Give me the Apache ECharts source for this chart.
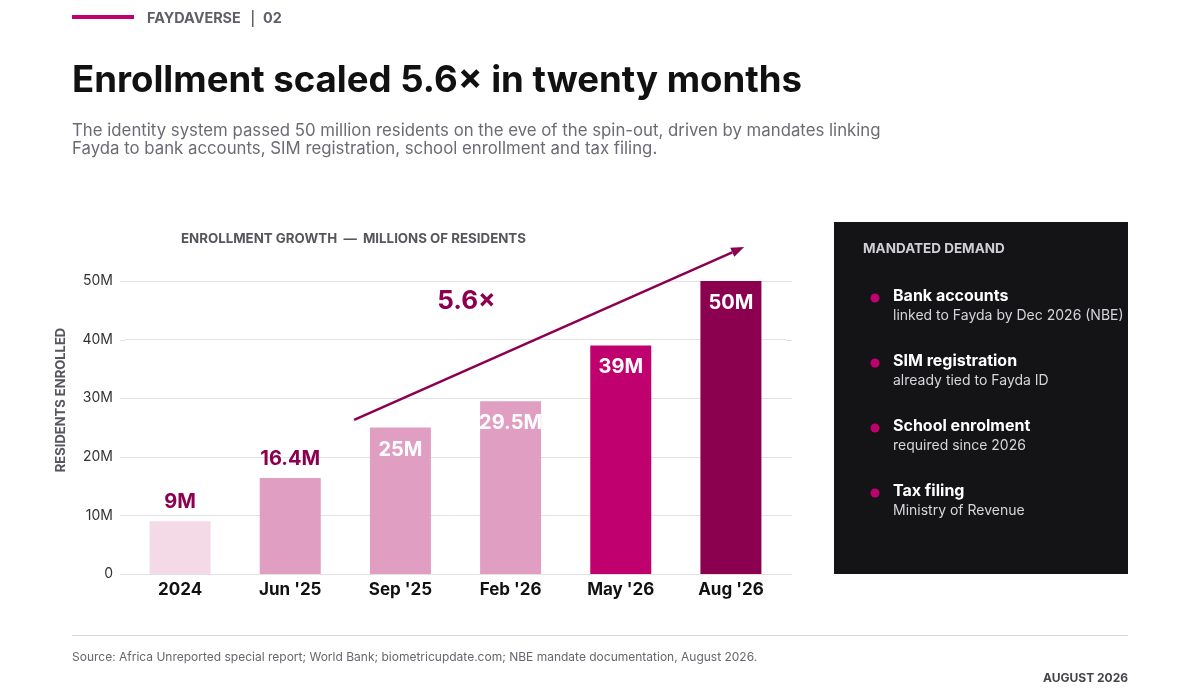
<!DOCTYPE html>
<html>
<head>
<meta charset="utf-8">
<script src="https://cdn.jsdelivr.net/npm/echarts@6/dist/echarts.min.js"></script>
<style>
  html, body { margin: 0; padding: 0; background: #fff; }
  #main { width: 1200px; height: 700px; }
</style>
</head>
<body>
<div id="main"></div>
<script>
// data
const categories = ['2024', "Jun '25", "Sep '25", "Feb '26", "May '26", "Aug '26"];
const enrolled = [9, 16.4, 25, 29.5, 39, 50];
const valueLabels = ['9M', '16.4M', '25M', '29.5M', '39M', '50M'];
const yTicks = ['0', '10M', '20M', '30M', '40M', '50M'];
const mandates = ['Bank accounts', 'SIM registration', 'School enrolment', 'Tax filing'];
const mandateNotes = ['linked to Fayda by Dec 2026 (NBE)', 'already tied to Fayda ID', 'required since 2026', 'Ministry of Revenue'];
// arrow anchors in data space: [category index, millions]
const arrowFrom = [1.58, 26.3];
const arrowTo = [5.12, 55.8];
const multipleLabelAt = [2.6, 46.7];

// styles
const barColors = ['#f4d9e7', '#e19ec3', '#e19ec3', '#e19ec3', '#c0006f', '#8c0050'];
const labelInside = [false, false, true, true, true, true];
const FONT = 'Inter, "Noto Sans", sans-serif';
const WINE = '#8c0050';

const chart = echarts.init(document.getElementById('main'), null, { renderer: 'canvas' });

const barData = enrolled.map((v, i) => ({
  value: v,
  itemStyle: { color: barColors[i] },
  label: {
    show: true,
    position: labelInside[i] ? 'insideTop' : 'top',
    distance: labelInside[i] ? 12 : 9,
    color: labelInside[i] ? '#ffffff' : WINE,
    formatter: valueLabels[i]
  }
}));

chart.setOption({
  animation: false,
  textStyle: { fontFamily: FONT },
  grid: { left: 125, right: 414, top: 281, bottom: 126 },
  xAxis: {
    type: 'category',
    data: categories,
    axisLine: { show: false },
    axisTick: { show: false },
    axisLabel: { color: '#111', fontSize: 17, fontWeight: 'bold', margin: 7, fontFamily: FONT }
  },
  yAxis: {
    type: 'value',
    min: 0,
    max: 50,
    interval: 10,
    axisLabel: {
      color: '#333', fontSize: 14, margin: 12, fontFamily: FONT,
      formatter: (v) => yTicks[Math.round(v / 10)]
    },
    splitLine: { lineStyle: { color: '#e2e2e6', width: 1 } }
  },
  series: [{
    type: 'bar',
    data: barData,
    barWidth: 61,
    label: { fontSize: 20, fontWeight: 'bold', fontFamily: FONT }
  }]
});

// convert data-space anchor to pixels (fractional category index)
function toPx(pt) {
  const x0 = chart.convertToPixel({ xAxisIndex: 0 }, 0);
  const x1 = chart.convertToPixel({ xAxisIndex: 0 }, 1);
  const y = chart.convertToPixel({ yAxisIndex: 0 }, pt[1]);
  return [x0 + pt[0] * (x1 - x0), y];
}

const a = toPx(arrowFrom);
const b = toPx(arrowTo);
const ang = Math.atan2(b[1] - a[1], b[0] - a[0]);
const headLen = 13, headW = 5;
const base = [b[0] - headLen * Math.cos(ang), b[1] - headLen * Math.sin(ang)];
const head = [
  b,
  [base[0] + headW * Math.sin(ang), base[1] - headW * Math.cos(ang)],
  [base[0] - headW * Math.sin(ang), base[1] + headW * Math.cos(ang)]
];
const mLabel = toPx(multipleLabelAt);

// gridlines run a few px past the bar band on both sides
const gridExtra = [0, 10, 20, 30, 40, 50].map((v) => {
  const y = Math.round(chart.convertToPixel({ yAxisIndex: 0 }, v)) + 0.5;
  return [
    { type: 'line', shape: { x1: 120, y1: y, x2: 125, y2: y }, style: { stroke: '#e2e2e6', lineWidth: 1 } },
    { type: 'line', shape: { x1: 786, y1: y, x2: 792, y2: y }, style: { stroke: '#e2e2e6', lineWidth: 1 } }
  ];
}).flat();

const graphics = gridExtra.concat([
  // header
  { type: 'rect', shape: { x: 72, y: 15, width: 62, height: 4 }, style: { fill: '#c0006f' } },
  { type: 'text', x: 147, y: 19, style: { text: 'FAYDAVERSE', font: 'bold 14.4px ' + FONT, fill: '#5f5f6a', verticalAlign: 'middle' } },
  { type: 'rect', shape: { x: 252, y: 10, width: 1.5, height: 17 }, style: { fill: '#5f5f6a' } },
  { type: 'text', x: 263, y: 19, style: { text: '02', font: 'bold 14.4px ' + FONT, fill: '#5f5f6a', verticalAlign: 'middle' } },
  { type: 'text', x: 72, y: 81, style: { text: 'Enrollment scaled 5.6× in twenty months', font: 'bold 36.6px ' + FONT, fill: '#111', verticalAlign: 'middle' } },
  { type: 'text', x: 72, y: 131, style: { text: 'The identity system passed 50 million residents on the eve of the spin-out, driven by mandates linking', font: '16.8px ' + FONT, fill: '#6b6b75', verticalAlign: 'middle' } },
  { type: 'text', x: 72, y: 149, style: { text: 'Fayda to bank accounts, SIM registration, school enrollment and tax filing.', font: '16.8px ' + FONT, fill: '#6b6b75', verticalAlign: 'middle' } },
  // chart title and axis name
  { type: 'text', x: 181, y: 239, style: { text: 'ENROLLMENT GROWTH  —  MILLIONS OF RESIDENTS', font: 'bold 13.3px ' + FONT, fill: '#55555d', verticalAlign: 'middle' } },
  { type: 'text', x: 61, y: 400, rotation: Math.PI / 2, style: { text: 'RESIDENTS ENROLLED', font: 'bold 13px ' + FONT, fill: '#55555d', align: 'center', verticalAlign: 'middle' } },
  // growth arrow
  { type: 'line', shape: { x1: a[0], y1: a[1], x2: base[0], y2: base[1] }, style: { stroke: WINE, lineWidth: 2.5 } },
  { type: 'polygon', shape: { points: head }, style: { fill: WINE } },
  { type: 'text', x: mLabel[0], y: mLabel[1] + 1, style: { text: '5.6×', font: 'bold 26px ' + FONT, fill: WINE, align: 'center', verticalAlign: 'middle' } },
  // side panel
  { type: 'rect', shape: { x: 834, y: 222, width: 294, height: 352 }, style: { fill: '#141416' } },
  { type: 'text', x: 863, y: 249, style: { text: 'MANDATED DEMAND', font: 'bold 13.5px ' + FONT, fill: '#cfcfd4', verticalAlign: 'middle' } },
  // footer
  { type: 'rect', shape: { x: 72, y: 635, width: 1056, height: 1 }, style: { fill: '#d8d8dc' } },
  { type: 'text', x: 72, y: 657, style: { text: 'Source: Africa Unreported special report; World Bank; biometricupdate.com; NBE mandate documentation, August 2026.', font: '12px ' + FONT, fill: '#66666e', verticalAlign: 'middle' } },
  { type: 'text', x: 1128, y: 678, style: { text: 'AUGUST 2026', font: 'bold 12px ' + FONT, fill: '#44444c', align: 'right', verticalAlign: 'middle' } }
]);

mandates.forEach((m, i) => {
  const y = 296 + i * 65;
  graphics.push(
    { type: 'circle', shape: { cx: 875, cy: y + 2, r: 4.5 }, style: { fill: '#c0006f' } },
    { type: 'text', x: 893, y: y, style: { text: m, font: 'bold 16px ' + FONT, fill: '#ffffff', verticalAlign: 'middle' } },
    { type: 'text', x: 893, y: y + 20, style: { text: mandateNotes[i], font: '14px ' + FONT, fill: '#d6d6da', verticalAlign: 'middle' } }
  );
});

chart.setOption({ graphic: graphics });
</script>
</body>
</html>
